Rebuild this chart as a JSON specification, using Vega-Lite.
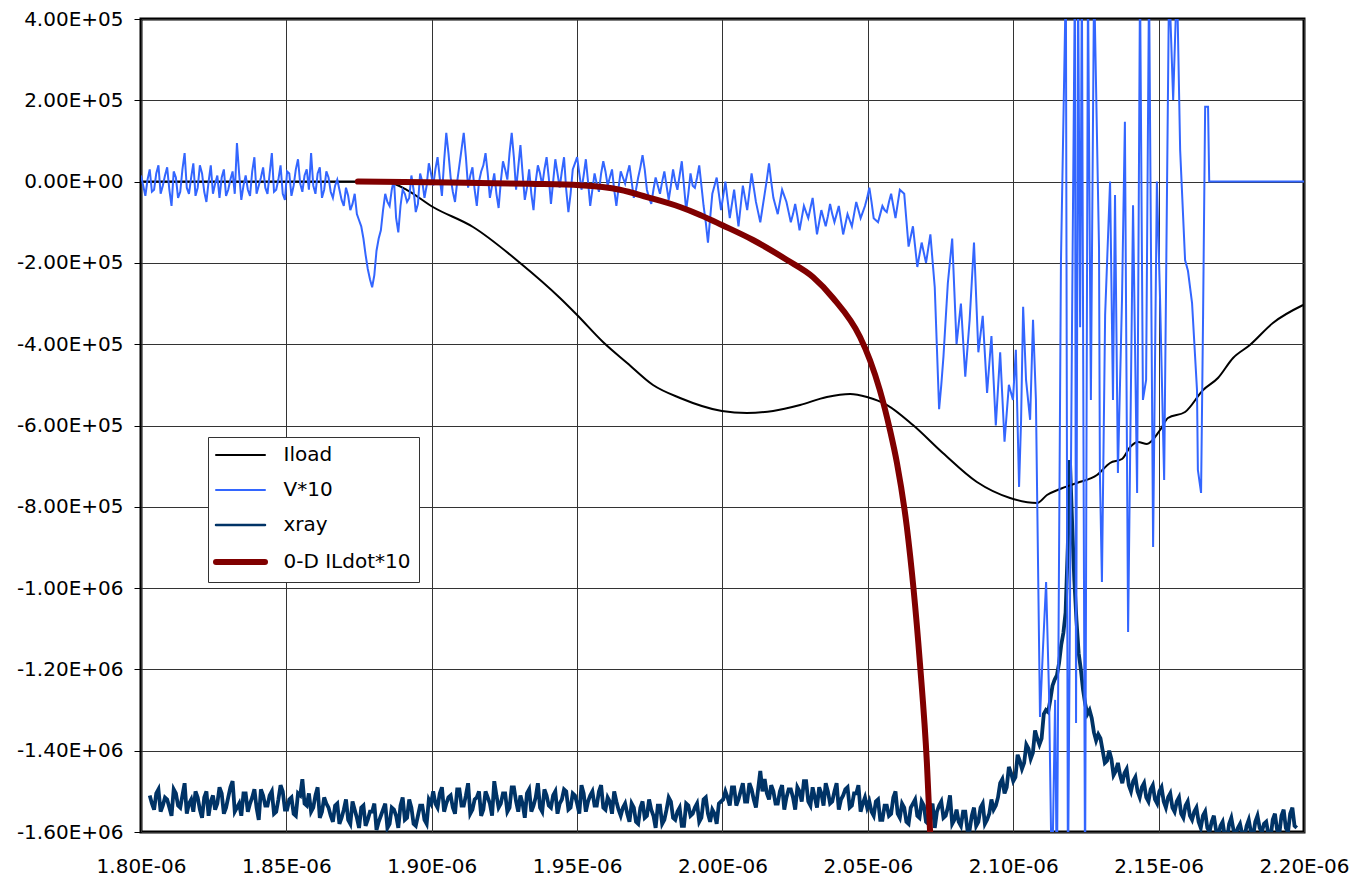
{
"$schema": "https://vega.github.io/schema/vega-lite/v6.json",
"width": 1163, "height": 813,
"autosize": "none",
"padding": {"left": 141, "top": 19, "right": 57, "bottom": 48},
"background": "white",
"config": {"view": {"stroke": "black", "strokeWidth": 3}, "font": "DejaVu Sans"},
"datasets": {
"iload": [
{"t":1.8,"v":0},{"t":1.88,"v":0},{"t":1.8856,"v":-3000},{"t":1.8915,"v":-20700},{"t":1.9004,"v":-62500},{"t":1.9142,"v":-111700},{"t":1.9304,"v":-200200},{"t":1.9441,"v":-286300},{"t":1.95,"v":-328200},{"t":1.9589,"v":-394600},{"t":1.9672,"v":-446200},{"t":1.9761,"v":-500400},{"t":1.9854,"v":-532300},{"t":1.9998,"v":-564300},{"t":2.0084,"v":-569200},{"t":2.0174,"v":-564300},{"t":2.0267,"v":-549600},{"t":2.0359,"v":-529900},{"t":2.0439,"v":-522500},{"t":2.0497,"v":-529900},{"t":2.0566,"v":-549600},{"t":2.0655,"v":-598800},{"t":2.0758,"v":-667600},{"t":2.0875,"v":-739000},{"t":2.0989,"v":-778300},{"t":2.1082,"v":-790600},{"t":2.1116,"v":-771000},{"t":2.1161,"v":-756200},{"t":2.1219,"v":-741400},{"t":2.1288,"v":-721800},{"t":2.1333,"v":-692200},{"t":2.1374,"v":-682400},{"t":2.1402,"v":-652900},{"t":2.1429,"v":-640600},{"t":2.146,"v":-645500},{"t":2.1505,"v":-611100},{"t":2.1532,"v":-581500},{"t":2.1591,"v":-566800},{"t":2.1653,"v":-512700},{"t":2.1704,"v":-483100},{"t":2.1756,"v":-433900},{"t":2.1814,"v":-402000},{"t":2.1893,"v":-347800},{"t":2.1997,"v":-303600}
],
"ildot": [
{"t":1.8746,"v":0},{"t":1.9063,"v":-2000},{"t":1.9338,"v":-5500},{"t":1.951,"v":-9000},{"t":1.9647,"v":-20000},{"t":1.974,"v":-38000},{"t":1.9854,"v":-62500},{"t":1.9923,"v":-82000},{"t":1.9998,"v":-106800},{"t":2.0105,"v":-143700},{"t":2.0222,"v":-192900},{"t":2.0311,"v":-234700},{"t":2.038,"v":-286300},{"t":2.0473,"v":-382300},{"t":2.0507,"v":-438900},{"t":2.0541,"v":-512700},{"t":2.0576,"v":-611100},{"t":2.06,"v":-692200},{"t":2.0634,"v":-849700},{"t":2.0679,"v":-1184200},{"t":2.0703,"v":-1430200},{"t":2.0714,"v":-1600000},{"t":2.0722,"v":-1750000}
],
"v10": [
{"t":1.8,"v":15000},{"t":1.8015,"v":-35000},{"t":1.803,"v":30000},{"t":1.8045,"v":-20000},{"t":1.806,"v":40000},{"t":1.8075,"v":-10000},{"t":1.809,"v":35000},{"t":1.8105,"v":-60000},{"t":1.812,"v":10000},{"t":1.8135,"v":-25000},{"t":1.815,"v":70000},{"t":1.8165,"v":-30000},{"t":1.818,"v":45000},{"t":1.8195,"v":-15000},{"t":1.821,"v":20000},{"t":1.8225,"v":-50000},{"t":1.824,"v":40000},{"t":1.8255,"v":-5000},{"t":1.827,"v":-40000},{"t":1.8285,"v":30000},{"t":1.83,"v":-20000},{"t":1.8315,"v":25000},{"t":1.833,"v":95000},{"t":1.8345,"v":-45000},{"t":1.836,"v":15000},{"t":1.8375,"v":-35000},{"t":1.839,"v":60000},{"t":1.8405,"v":-10000},{"t":1.842,"v":35000},{"t":1.8435,"v":-30000},{"t":1.845,"v":70000},{"t":1.8465,"v":-20000},{"t":1.848,"v":40000},{"t":1.8495,"v":-45000},{"t":1.851,"v":20000},{"t":1.8525,"v":-10000},{"t":1.854,"v":55000},{"t":1.8555,"v":-25000},{"t":1.857,"v":30000},{"t":1.8585,"v":70000},{"t":1.86,"v":-30000},{"t":1.8615,"v":35000},{"t":1.863,"v":-20000},{"t":1.8645,"v":10000},{"t":1.866,"v":-40000},{"t":1.8675,"v":5000},
{"t":1.869,"v":-45000},{"t":1.8705,"v":-15000},{"t":1.872,"v":-70000},{"t":1.8735,"v":-30000},{"t":1.875,"v":-95000},{"t":1.8765,"v":-140000},{"t":1.878,"v":-215000},{"t":1.8795,"v":-260000},{"t":1.881,"v":-170000},{"t":1.8825,"v":-120000},{"t":1.884,"v":-30000},{"t":1.8855,"v":-60000},{"t":1.887,"v":5000},{"t":1.8885,"v":-125000},{"t":1.89,"v":-20000},{"t":1.8915,"v":-50000},{"t":1.893,"v":15000},{"t":1.8945,"v":-75000},{"t":1.896,"v":20000},
{"t":1.8975,"v":-40000},{"t":1.899,"v":45000},{"t":1.9005,"v":-10000},{"t":1.902,"v":60000},{"t":1.9035,"v":-35000},{"t":1.905,"v":120000},{"t":1.9065,"v":10000},{"t":1.908,"v":-50000},{"t":1.9095,"v":40000},{"t":1.911,"v":120000},{"t":1.9125,"v":-15000},{"t":1.914,"v":35000},{"t":1.9155,"v":-60000},{"t":1.917,"v":25000},{"t":1.9185,"v":70000},{"t":1.92,"v":-40000},{"t":1.9215,"v":20000},{"t":1.923,"v":-65000},{"t":1.9245,"v":50000},{"t":1.926,"v":5000},{"t":1.9275,"v":120000},{"t":1.929,"v":-20000},{"t":1.9305,"v":90000},{"t":1.932,"v":-45000},{"t":1.9335,"v":30000},{"t":1.935,"v":-70000},{"t":1.9365,"v":40000},{"t":1.938,"v":-10000},{"t":1.9395,"v":60000},{"t":1.941,"v":-55000},{"t":1.9425,"v":55000},{"t":1.944,"v":-15000},{"t":1.9455,"v":60000},{"t":1.947,"v":-75000},{"t":1.9485,"v":30000},
{"t":1.95,"v":60000},{"t":1.9515,"v":-20000},{"t":1.953,"v":55000},{"t":1.9545,"v":-60000},{"t":1.956,"v":20000},{"t":1.9575,"v":-25000},{"t":1.959,"v":50000},{"t":1.9605,"v":-10000},{"t":1.962,"v":30000},{"t":1.9635,"v":-60000},{"t":1.965,"v":25000},{"t":1.9665,"v":-5000},{"t":1.968,"v":40000},{"t":1.9695,"v":-40000},{"t":1.971,"v":10000},{"t":1.9725,"v":65000},{"t":1.974,"v":-20000},{"t":1.9755,"v":-55000},{"t":1.977,"v":10000},{"t":1.9785,"v":-30000},{"t":1.98,"v":25000},{"t":1.9815,"v":-45000},{"t":1.983,"v":30000},{"t":1.9845,"v":-20000},{"t":1.986,"v":50000},{"t":1.9875,"v":-70000},{"t":1.989,"v":20000},
{"t":1.9905,"v":-15000},{"t":1.992,"v":40000},{"t":1.9935,"v":-60000},{"t":1.995,"v":-150000},{"t":1.9965,"v":-30000},{"t":1.998,"v":10000},{"t":1.9995,"v":-70000},{"t":2.001,"v":0},{"t":2.0025,"v":-90000},{"t":2.004,"v":-20000},{"t":2.0055,"v":-110000},{"t":2.007,"v":-10000},{"t":2.0085,"v":-70000},{"t":2.01,"v":20000},{"t":2.0115,"v":-50000},{"t":2.013,"v":-100000},{"t":2.0145,"v":-30000},{"t":2.016,"v":45000},{"t":2.0175,"v":-40000},{"t":2.019,"v":-80000},{"t":2.0205,"v":-20000},{"t":2.022,"v":-50000},{"t":2.0235,"v":-100000},{"t":2.025,"v":-55000},{"t":2.0265,"v":-120000},{"t":2.028,"v":-60000},{"t":2.0295,"v":-90000},{"t":2.031,"v":-40000},{"t":2.0325,"v":-130000},{"t":2.034,"v":-70000},{"t":2.0355,"v":-110000},{"t":2.037,"v":-55000},{"t":2.0385,"v":-100000},{"t":2.04,"v":-60000},{"t":2.0415,"v":-130000},{"t":2.043,"v":-80000},{"t":2.0445,"v":-110000},{"t":2.046,"v":-50000},{"t":2.0475,"v":-90000},{"t":2.049,"v":-60000},
{"t":2.0505,"v":-15000},{"t":2.052,"v":-90000},{"t":2.0535,"v":-100000},{"t":2.055,"v":-60000},{"t":2.0565,"v":-75000},{"t":2.058,"v":-30000},{"t":2.0595,"v":-90000},{"t":2.061,"v":-20000},{"t":2.0625,"v":-30000},{"t":2.064,"v":-160000},{"t":2.0655,"v":-110000},{"t":2.067,"v":-210000},{"t":2.0685,"v":-150000},{"t":2.07,"v":-200000},{"t":2.0715,"v":-130000},{"t":2.073,"v":-260000},{"t":2.0745,"v":-560000},{"t":2.076,"v":-430000},{"t":2.0775,"v":-250000},{"t":2.079,"v":-140000},{"t":2.0805,"v":-400000},{"t":2.082,"v":-300000},{"t":2.0835,"v":-480000},{"t":2.085,"v":-340000},{"t":2.0865,"v":-150000},{"t":2.088,"v":-420000},{"t":2.0895,"v":-330000},{"t":2.091,"v":-520000},{"t":2.0925,"v":-380000},{"t":2.094,"v":-600000},{"t":2.0955,"v":-420000},{"t":2.097,"v":-640000},{"t":2.0985,"v":-500000},
{"t":2.0999,"v":-537000},{"t":2.1009,"v":-414000},{"t":2.102,"v":-751000},{"t":2.1027,"v":-586000},{"t":2.1034,"v":-308000},{"t":2.1044,"v":-488000},{"t":2.1058,"v":-586000},{"t":2.1068,"v":-340000},{"t":2.1078,"v":-537000},{"t":2.1092,"v":-1317000},{"t":2.1102,"v":-1152000},{"t":2.1113,"v":-985000},{"t":2.1123,"v":-1258000},{"t":2.1133,"v":-1750000},{"t":2.1144,"v":-1275000},{"t":2.115,"v":-1750000},{"t":2.1164,"v":-200000},{"t":2.1181,"v":500000},{"t":2.1188,"v":-1750000},{"t":2.1202,"v":-365000},{"t":2.1212,"v":500000},{"t":2.1216,"v":-1332000},{"t":2.1223,"v":500000},{"t":2.123,"v":-358000},{"t":2.1236,"v":500000},{"t":2.1247,"v":-1750000},{"t":2.1257,"v":500000},{"t":2.1267,"v":-537000},{"t":2.1278,"v":500000},{"t":2.1295,"v":-163000},{"t":2.1298,"v":-717000},{"t":2.1305,"v":-985000},{"t":2.1316,"v":-328000},{"t":2.1333,"v":0},{"t":2.1343,"v":-537000},{"t":2.135,"v":-33000},{"t":2.136,"v":-717000},{"t":2.1374,"v":-291000},{"t":2.1384,"v":147000},{"t":2.1395,"v":-1108000},{"t":2.1412,"v":-58000},{"t":2.1426,"v":-766000},{"t":2.1436,"v":500000},{"t":2.1446,"v":-537000},{"t":2.1457,"v":-488000},{"t":2.1467,"v":500000},{"t":2.1481,"v":-899000},{"t":2.1494,"v":0},{"t":2.1505,"v":-291000},{"t":2.1519,"v":-734000},{"t":2.1536,"v":500000},{"t":2.155,"v":201000},{"t":2.1563,"v":500000},{"t":2.1574,"v":78000},{"t":2.1591,"v":-193000},{"t":2.1601,"v":-220000},{"t":2.1615,"v":-299000},{"t":2.1632,"v":-513000},{"t":2.1635,"v":-709000},{"t":2.1646,"v":-766000},{"t":2.1653,"v":-323000},{"t":2.166,"v":184000},{"t":2.167,"v":184000},{"t":2.1674,"v":0},{"t":2.2,"v":0},
{"t":1.80075,"v":-10000},{"t":1.80225,"v":5000},{"t":1.80375,"v":-25000},{"t":1.80525,"v":20000},{"t":1.80675,"v":-30000},{"t":1.80825,"v":15000},{"t":1.80975,"v":-20000},{"t":1.81125,"v":25000},{"t":1.81275,"v":-40000},{"t":1.81425,"v":30000},{"t":1.81575,"v":-15000},{"t":1.81725,"v":10000},{"t":1.81875,"v":-35000},{"t":1.82025,"v":40000},{"t":1.82175,"v":-25000},{"t":1.82325,"v":0},{"t":1.82475,"v":-30000},{"t":1.82625,"v":15000},{"t":1.82775,"v":10000},{"t":1.82925,"v":-35000},{"t":1.83075,"v":5000},{"t":1.83225,"v":-30000},{"t":1.83375,"v":20000},{"t":1.83525,"v":-10000},{"t":1.83675,"v":-20000},{"t":1.83825,"v":25000},{"t":1.83975,"v":-30000},{"t":1.84125,"v":10000},{"t":1.84275,"v":-15000},{"t":1.84425,"v":20000},{"t":1.84575,"v":-25000},{"t":1.84725,"v":5000},{"t":1.84875,"v":-30000},{"t":1.85025,"v":25000},{"t":1.85175,"v":-35000},{"t":1.85325,"v":30000},{"t":1.85475,"v":-5000},{"t":1.85625,"v":15000},{"t":1.85775,"v":-20000},{"t":1.85925,"v":-10000},{"t":1.86075,"v":20000},{"t":1.86225,"v":-40000},{"t":1.86375,"v":25000},{"t":1.86525,"v":-25000},{"t":1.86675,"v":-10000},
{"t":1.86825,"v":-20000},{"t":1.86975,"v":-60000},{"t":1.87125,"v":-35000},{"t":1.87275,"v":-55000},{"t":1.87425,"v":-80000},{"t":1.87575,"v":-110000},{"t":1.87725,"v":-180000},{"t":1.87875,"v":-240000},{"t":1.88025,"v":-230000},{"t":1.88175,"v":-140000},{"t":1.88325,"v":-70000},{"t":1.88475,"v":-50000},{"t":1.88625,"v":-20000},{"t":1.88775,"v":-90000},{"t":1.88925,"v":-60000},{"t":1.89075,"v":-30000},{"t":1.89225,"v":-40000},{"t":1.89375,"v":-20000},{"t":1.89525,"v":-55000},
{"t":1.89675,"v":0},{"t":1.89825,"v":-10000},{"t":1.89975,"v":20000},{"t":1.90125,"v":30000},{"t":1.90275,"v":10000},{"t":1.90425,"v":50000},{"t":1.90575,"v":70000},{"t":1.90725,"v":-25000},{"t":1.90875,"v":0},{"t":1.91025,"v":80000},{"t":1.91175,"v":60000},{"t":1.91325,"v":15000},{"t":1.91475,"v":-20000},{"t":1.91625,"v":0},{"t":1.91775,"v":40000},{"t":1.91925,"v":20000},{"t":1.92075,"v":-10000},{"t":1.92225,"v":-30000},{"t":1.92375,"v":0},{"t":1.92525,"v":30000},{"t":1.92675,"v":70000},{"t":1.92825,"v":60000},{"t":1.92975,"v":35000},{"t":1.93125,"v":20000},{"t":1.93275,"v":-15000},{"t":1.93425,"v":-30000},{"t":1.93575,"v":0},{"t":1.93725,"v":20000},{"t":1.93875,"v":30000},{"t":1.94025,"v":10000},{"t":1.94175,"v":0},{"t":1.94325,"v":20000},{"t":1.94475,"v":25000},{"t":1.94625,"v":-20000},{"t":1.94775,"v":-30000},{"t":1.94925,"v":45000},
{"t":1.95075,"v":20000},{"t":1.95225,"v":15000},{"t":1.95375,"v":0},{"t":1.95525,"v":-20000},{"t":1.95675,"v":-5000},{"t":1.95825,"v":20000},{"t":1.95975,"v":25000},{"t":1.96125,"v":10000},{"t":1.96275,"v":-20000},{"t":1.96425,"v":-15000},{"t":1.96575,"v":10000},{"t":1.96725,"v":20000},{"t":1.96875,"v":0},{"t":1.97025,"v":-20000},{"t":1.97175,"v":35000},{"t":1.97325,"v":30000},{"t":1.97475,"v":-40000},{"t":1.97625,"v":-20000},{"t":1.97775,"v":-10000},{"t":1.97925,"v":0},{"t":1.98075,"v":-10000},{"t":1.98225,"v":-10000},{"t":1.98375,"v":0},{"t":1.98525,"v":15000},{"t":1.98675,"v":-10000},{"t":1.98825,"v":-30000},{"t":1.98975,"v":-10000},
{"t":1.99125,"v":10000},{"t":1.99275,"v":-10000},{"t":1.99425,"v":-100000},{"t":1.99575,"v":-90000},{"t":1.99725,"v":-10000},{"t":1.99875,"v":-30000},{"t":2.00025,"v":-35000},{"t":2.00175,"v":-45000},{"t":2.00325,"v":-55000},{"t":2.00475,"v":-65000},{"t":2.00625,"v":-60000},{"t":2.00775,"v":-40000},{"t":2.00925,"v":-25000},{"t":2.01075,"v":-15000},{"t":2.01225,"v":-75000},{"t":2.01375,"v":-65000},{"t":2.01525,"v":5000},{"t":2.01675,"v":0},{"t":2.01825,"v":-60000},{"t":2.01975,"v":-50000},{"t":2.02125,"v":-35000},{"t":2.02275,"v":-75000},{"t":2.02425,"v":-80000},{"t":2.02575,"v":-85000},{"t":2.02725,"v":-90000},{"t":2.02875,"v":-75000},{"t":2.03025,"v":-65000},{"t":2.03175,"v":-85000},{"t":2.03325,"v":-100000},{"t":2.03475,"v":-90000},{"t":2.03625,"v":-85000},{"t":2.03775,"v":-80000},{"t":2.03925,"v":-80000},{"t":2.04075,"v":-95000},{"t":2.04225,"v":-105000},{"t":2.04375,"v":-95000},{"t":2.04525,"v":-80000},{"t":2.04675,"v":-70000},{"t":2.04825,"v":-75000},{"t":2.04975,"v":-40000},
{"t":2.05125,"v":-50000},{"t":2.05275,"v":-95000},{"t":2.05425,"v":-80000},{"t":2.05575,"v":-70000},{"t":2.05725,"v":-50000},{"t":2.05875,"v":-60000},{"t":2.06025,"v":-55000},{"t":2.06175,"v":-25000},{"t":2.06325,"v":-95000},{"t":2.06475,"v":-135000},{"t":2.06625,"v":-160000},{"t":2.06775,"v":-180000},{"t":2.06925,"v":-175000},{"t":2.07075,"v":-165000},{"t":2.07225,"v":-195000},{"t":2.07375,"v":-410000},{"t":2.07525,"v":-500000},{"t":2.07675,"v":-340000},{"t":2.07825,"v":-195000},{"t":2.07975,"v":-270000},{"t":2.08125,"v":-350000},{"t":2.08275,"v":-390000},{"t":2.08425,"v":-410000},{"t":2.08575,"v":-245000},{"t":2.08725,"v":-285000},{"t":2.08875,"v":-375000},{"t":2.09025,"v":-425000},{"t":2.09175,"v":-450000},{"t":2.09325,"v":-490000},{"t":2.09475,"v":-510000},{"t":2.09625,"v":-530000},{"t":2.09775,"v":-570000}
],
"xray": [
{"t":1.803,"v":-1510000},{"t":1.8045,"v":-1545000},{"t":1.806,"v":-1495000},{"t":1.8075,"v":-1535000},{"t":1.809,"v":-1520000},{"t":1.8105,"v":-1560000},{"t":1.812,"v":-1505000},{"t":1.8135,"v":-1540000},{"t":1.815,"v":-1480000},{"t":1.8165,"v":-1530000},{"t":1.818,"v":-1550000},{"t":1.8195,"v":-1515000},{"t":1.821,"v":-1565000},{"t":1.8225,"v":-1500000},{"t":1.824,"v":-1525000},{"t":1.8255,"v":-1545000},{"t":1.827,"v":-1490000},{"t":1.8285,"v":-1555000},{"t":1.83,"v":-1515000},{"t":1.8315,"v":-1475000},{"t":1.833,"v":-1540000},{"t":1.8345,"v":-1560000},{"t":1.836,"v":-1505000},{"t":1.8375,"v":-1530000},{"t":1.839,"v":-1495000},{"t":1.8405,"v":-1570000},{"t":1.842,"v":-1510000},{"t":1.8435,"v":-1535000},{"t":1.845,"v":-1500000},{"t":1.8465,"v":-1550000},{"t":1.848,"v":-1485000},{"t":1.8495,"v":-1545000},{"t":1.851,"v":-1520000},{"t":1.8525,"v":-1555000},{"t":1.854,"v":-1505000},{"t":1.8555,"v":-1470000},{"t":1.857,"v":-1535000},{"t":1.8585,"v":-1550000},{"t":1.86,"v":-1510000},{"t":1.8615,"v":-1565000},{"t":1.863,"v":-1515000},
{"t":1.8645,"v":-1540000},{"t":1.866,"v":-1575000},{"t":1.8675,"v":-1530000},{"t":1.869,"v":-1565000},{"t":1.8705,"v":-1520000},{"t":1.872,"v":-1580000},{"t":1.8735,"v":-1545000},{"t":1.875,"v":-1590000},{"t":1.8765,"v":-1535000},{"t":1.878,"v":-1570000},{"t":1.8795,"v":-1550000},{"t":1.881,"v":-1595000},{"t":1.8825,"v":-1560000},{"t":1.884,"v":-1530000},{"t":1.8855,"v":-1580000},{"t":1.887,"v":-1545000},{"t":1.8885,"v":-1590000},{"t":1.89,"v":-1515000},{"t":1.8915,"v":-1565000},{"t":1.893,"v":-1540000},{"t":1.8945,"v":-1585000},{"t":1.896,"v":-1535000},{"t":1.8975,"v":-1570000},{"t":1.899,"v":-1520000},
{"t":1.9005,"v":-1500000},{"t":1.902,"v":-1540000},{"t":1.9035,"v":-1490000},{"t":1.905,"v":-1530000},{"t":1.9065,"v":-1510000},{"t":1.908,"v":-1555000},{"t":1.9095,"v":-1495000},{"t":1.911,"v":-1535000},{"t":1.9125,"v":-1480000},{"t":1.914,"v":-1545000},{"t":1.9155,"v":-1515000},{"t":1.917,"v":-1560000},{"t":1.9185,"v":-1500000},{"t":1.92,"v":-1530000},{"t":1.9215,"v":-1475000},{"t":1.923,"v":-1540000},{"t":1.9245,"v":-1505000},{"t":1.926,"v":-1550000},{"t":1.9275,"v":-1490000},{"t":1.929,"v":-1525000},{"t":1.9305,"v":-1510000},{"t":1.932,"v":-1565000},{"t":1.9335,"v":-1495000},{"t":1.935,"v":-1535000},{"t":1.9365,"v":-1480000},{"t":1.938,"v":-1550000},{"t":1.9395,"v":-1510000},{"t":1.941,"v":-1540000},{"t":1.9425,"v":-1500000},{"t":1.944,"v":-1530000},
{"t":1.9455,"v":-1495000},{"t":1.947,"v":-1545000},{"t":1.9485,"v":-1505000},{"t":1.95,"v":-1530000},{"t":1.9515,"v":-1485000},{"t":1.953,"v":-1550000},{"t":1.9545,"v":-1510000},{"t":1.956,"v":-1535000},{"t":1.9575,"v":-1500000},{"t":1.959,"v":-1540000},{"t":1.9605,"v":-1515000},{"t":1.962,"v":-1555000},{"t":1.9635,"v":-1525000},{"t":1.965,"v":-1560000},
{"t":1.9665,"v":-1530000},{"t":1.968,"v":-1575000},{"t":1.9695,"v":-1540000},{"t":1.971,"v":-1580000},{"t":1.9725,"v":-1525000},{"t":1.974,"v":-1560000},{"t":1.9755,"v":-1545000},{"t":1.977,"v":-1590000},{"t":1.9785,"v":-1535000},{"t":1.98,"v":-1570000},{"t":1.9815,"v":-1515000},{"t":1.983,"v":-1565000},{"t":1.9845,"v":-1550000},{"t":1.986,"v":-1585000},{"t":1.9875,"v":-1530000},{"t":1.989,"v":-1560000},{"t":1.9905,"v":-1540000},{"t":1.992,"v":-1575000},{"t":1.9935,"v":-1520000},{"t":1.995,"v":-1555000},{"t":1.9965,"v":-1545000},{"t":1.998,"v":-1580000},{"t":1.9995,"v":-1525000},
{"t":2.001,"v":-1500000},{"t":2.0025,"v":-1535000},{"t":2.004,"v":-1490000},{"t":2.0055,"v":-1520000},{"t":2.007,"v":-1480000},{"t":2.0085,"v":-1525000},{"t":2.01,"v":-1495000},{"t":2.0115,"v":-1540000},{"t":2.013,"v":-1450000},{"t":2.0145,"v":-1470000},{"t":2.016,"v":-1520000},{"t":2.0175,"v":-1500000},{"t":2.019,"v":-1530000},{"t":2.0205,"v":-1485000},{"t":2.022,"v":-1515000},{"t":2.0235,"v":-1495000},{"t":2.025,"v":-1545000},{"t":2.0265,"v":-1500000},{"t":2.028,"v":-1475000},{"t":2.0295,"v":-1525000},{"t":2.031,"v":-1490000},{"t":2.0325,"v":-1540000},{"t":2.034,"v":-1505000},{"t":2.0355,"v":-1480000},{"t":2.037,"v":-1530000},{"t":2.0385,"v":-1500000},{"t":2.04,"v":-1545000},{"t":2.0415,"v":-1510000},{"t":2.043,"v":-1490000},{"t":2.0445,"v":-1535000},{"t":2.046,"v":-1505000},{"t":2.0475,"v":-1550000},{"t":2.049,"v":-1515000},
{"t":2.0505,"v":-1525000},{"t":2.052,"v":-1560000},{"t":2.0535,"v":-1520000},{"t":2.055,"v":-1570000},{"t":2.0565,"v":-1535000},{"t":2.058,"v":-1555000},{"t":2.0595,"v":-1500000},{"t":2.061,"v":-1565000},{"t":2.0625,"v":-1540000},{"t":2.064,"v":-1580000},{"t":2.0655,"v":-1530000},{"t":2.067,"v":-1560000},{"t":2.0685,"v":-1525000},{"t":2.07,"v":-1575000},{"t":2.0715,"v":-1545000},{"t":2.073,"v":-1590000},{"t":2.0745,"v":-1535000},{"t":2.076,"v":-1565000},{"t":2.0775,"v":-1540000},{"t":2.079,"v":-1580000},{"t":2.0805,"v":-1545000},{"t":2.082,"v":-1585000},{"t":2.0835,"v":-1550000},{"t":2.085,"v":-1595000},{"t":2.0865,"v":-1540000},{"t":2.088,"v":-1575000},{"t":2.0895,"v":-1530000},{"t":2.091,"v":-1570000},{"t":2.0925,"v":-1520000},
{"t":2.094,"v":-1535000},{"t":2.0955,"v":-1480000},{"t":2.097,"v":-1505000},{"t":2.0985,"v":-1440000},{"t":2.1,"v":-1475000},{"t":2.1015,"v":-1410000},{"t":2.103,"v":-1445000},{"t":2.1045,"v":-1385000},{"t":2.106,"v":-1420000},{"t":2.1075,"v":-1350000},{"t":2.109,"v":-1385000},{"t":2.1105,"v":-1310000},{"t":2.112,"v":-1305000},{"t":2.1135,"v":-1240000},{"t":2.115,"v":-1215000},{"t":2.1165,"v":-1140000},{"t":2.118,"v":-1060000},{"t":2.1195,"v":-685000},{"t":2.121,"v":-980000},{"t":2.1225,"v":-1160000},{"t":2.124,"v":-1250000},{"t":2.1255,"v":-1310000},{"t":2.127,"v":-1320000},{"t":2.1285,"v":-1375000},{"t":2.13,"v":-1370000},{"t":2.1315,"v":-1430000},{"t":2.133,"v":-1400000},{"t":2.1345,"v":-1460000},{"t":2.136,"v":-1430000},{"t":2.1375,"v":-1480000},{"t":2.139,"v":-1445000},{"t":2.1405,"v":-1500000},{"t":2.142,"v":-1465000},{"t":2.1435,"v":-1515000},{"t":2.145,"v":-1480000},{"t":2.1465,"v":-1525000},{"t":2.148,"v":-1485000},{"t":2.1495,"v":-1530000},{"t":2.151,"v":-1490000},{"t":2.1525,"v":-1540000},{"t":2.154,"v":-1505000},{"t":2.1555,"v":-1550000},{"t":2.157,"v":-1515000},{"t":2.1585,"v":-1565000},{"t":2.16,"v":-1525000},{"t":2.1615,"v":-1570000},{"t":2.163,"v":-1540000},{"t":2.1645,"v":-1590000},{"t":2.166,"v":-1550000},{"t":2.1675,"v":-1600000},{"t":2.169,"v":-1560000},{"t":2.1705,"v":-1610000},{"t":2.172,"v":-1575000},{"t":2.1735,"v":-1620000},{"t":2.175,"v":-1565000},{"t":2.1765,"v":-1605000},{"t":2.178,"v":-1580000},{"t":2.1795,"v":-1615000},{"t":2.181,"v":-1570000},{"t":2.1825,"v":-1610000},{"t":2.184,"v":-1560000},{"t":2.1855,"v":-1600000},{"t":2.187,"v":-1575000},{"t":2.1885,"v":-1615000},{"t":2.19,"v":-1555000},{"t":2.1915,"v":-1605000},{"t":2.193,"v":-1545000},{"t":2.1945,"v":-1600000},{"t":2.196,"v":-1540000},{"t":2.1975,"v":-1590000},
{"t":1.80375,"v":-1530000},{"t":1.80525,"v":-1505000},{"t":1.80675,"v":-1550000},{"t":1.80825,"v":-1515000},{"t":1.80975,"v":-1540000},{"t":1.81125,"v":-1495000},{"t":1.81275,"v":-1535000},{"t":1.81425,"v":-1510000},{"t":1.81575,"v":-1555000},{"t":1.81725,"v":-1520000},{"t":1.81875,"v":-1500000},{"t":1.82025,"v":-1545000},{"t":1.82175,"v":-1515000},{"t":1.82325,"v":-1560000},{"t":1.82475,"v":-1510000},{"t":1.82625,"v":-1530000},{"t":1.82775,"v":-1505000},{"t":1.82925,"v":-1540000},{"t":1.83075,"v":-1490000},{"t":1.83225,"v":-1550000},{"t":1.83375,"v":-1530000},{"t":1.83525,"v":-1505000},{"t":1.83675,"v":-1550000},{"t":1.83825,"v":-1515000},{"t":1.83975,"v":-1540000},{"t":1.84125,"v":-1495000},{"t":1.84275,"v":-1535000},{"t":1.84425,"v":-1510000},{"t":1.84575,"v":-1555000},{"t":1.84725,"v":-1520000},{"t":1.84875,"v":-1500000},{"t":1.85025,"v":-1545000},{"t":1.85175,"v":-1515000},{"t":1.85325,"v":-1560000},{"t":1.85475,"v":-1510000},{"t":1.85625,"v":-1530000},{"t":1.85775,"v":-1505000},{"t":1.85925,"v":-1540000},{"t":1.86075,"v":-1490000},{"t":1.86225,"v":-1550000},{"t":1.86375,"v":-1530000},
{"t":1.86525,"v":-1560000},{"t":1.86675,"v":-1535000},{"t":1.86825,"v":-1580000},{"t":1.86975,"v":-1545000},{"t":1.87125,"v":-1570000},{"t":1.87275,"v":-1525000},{"t":1.87425,"v":-1565000},{"t":1.87575,"v":-1540000},{"t":1.87725,"v":-1585000},{"t":1.87875,"v":-1550000},{"t":1.88025,"v":-1530000},{"t":1.88175,"v":-1575000},{"t":1.88325,"v":-1545000},{"t":1.88475,"v":-1590000},{"t":1.88625,"v":-1540000},{"t":1.88775,"v":-1560000},{"t":1.88925,"v":-1535000},{"t":1.89075,"v":-1570000},{"t":1.89225,"v":-1520000},{"t":1.89375,"v":-1580000},{"t":1.89525,"v":-1560000},{"t":1.89675,"v":-1535000},{"t":1.89825,"v":-1580000},{"t":1.89975,"v":-1530000},
{"t":1.90125,"v":-1530000},{"t":1.90275,"v":-1505000},{"t":1.90425,"v":-1550000},{"t":1.90575,"v":-1515000},{"t":1.90725,"v":-1540000},{"t":1.90875,"v":-1495000},{"t":1.91025,"v":-1535000},{"t":1.91175,"v":-1510000},{"t":1.91325,"v":-1555000},{"t":1.91475,"v":-1520000},{"t":1.91625,"v":-1500000},{"t":1.91775,"v":-1545000},{"t":1.91925,"v":-1515000},{"t":1.92075,"v":-1560000},{"t":1.92225,"v":-1510000},{"t":1.92375,"v":-1530000},{"t":1.92525,"v":-1505000},{"t":1.92675,"v":-1540000},{"t":1.92825,"v":-1490000},{"t":1.92975,"v":-1550000},{"t":1.93125,"v":-1530000},{"t":1.93275,"v":-1505000},{"t":1.93425,"v":-1550000},{"t":1.93575,"v":-1515000},{"t":1.93725,"v":-1540000},{"t":1.93875,"v":-1495000},{"t":1.94025,"v":-1535000},{"t":1.94175,"v":-1510000},{"t":1.94325,"v":-1555000},{"t":1.94475,"v":-1520000},
{"t":1.94625,"v":-1500000},{"t":1.94775,"v":-1540000},{"t":1.94925,"v":-1510000},{"t":1.95075,"v":-1555000},{"t":1.95225,"v":-1505000},{"t":1.95375,"v":-1525000},{"t":1.95525,"v":-1500000},{"t":1.95675,"v":-1535000},{"t":1.95825,"v":-1485000},{"t":1.95975,"v":-1545000},{"t":1.96125,"v":-1525000},{"t":1.96275,"v":-1500000},{"t":1.96425,"v":-1545000},{"t":1.96575,"v":-1540000},
{"t":1.96725,"v":-1555000},{"t":1.96875,"v":-1530000},{"t":1.97025,"v":-1575000},{"t":1.97175,"v":-1540000},{"t":1.97325,"v":-1565000},{"t":1.97475,"v":-1520000},{"t":1.97625,"v":-1560000},{"t":1.97775,"v":-1535000},{"t":1.97925,"v":-1580000},{"t":1.98075,"v":-1545000},{"t":1.98225,"v":-1525000},{"t":1.98375,"v":-1570000},{"t":1.98525,"v":-1540000},{"t":1.98675,"v":-1585000},{"t":1.98825,"v":-1535000},{"t":1.98975,"v":-1555000},{"t":1.99125,"v":-1530000},{"t":1.99275,"v":-1565000},{"t":1.99425,"v":-1515000},{"t":1.99575,"v":-1575000},{"t":1.99725,"v":-1555000},{"t":1.99875,"v":-1530000},{"t":2.00025,"v":-1520000},
{"t":2.00175,"v":-1515000},{"t":2.00325,"v":-1490000},{"t":2.00475,"v":-1535000},{"t":2.00625,"v":-1500000},{"t":2.00775,"v":-1525000},{"t":2.00925,"v":-1480000},{"t":2.01075,"v":-1520000},{"t":2.01225,"v":-1495000},{"t":2.01375,"v":-1500000},{"t":2.01525,"v":-1505000},{"t":2.01675,"v":-1485000},{"t":2.01825,"v":-1530000},{"t":2.01975,"v":-1500000},{"t":2.02125,"v":-1545000},{"t":2.02275,"v":-1495000},{"t":2.02425,"v":-1515000},{"t":2.02575,"v":-1490000},{"t":2.02725,"v":-1525000},{"t":2.02875,"v":-1475000},{"t":2.03025,"v":-1535000},{"t":2.03175,"v":-1515000},{"t":2.03325,"v":-1490000},{"t":2.03475,"v":-1535000},{"t":2.03625,"v":-1500000},{"t":2.03775,"v":-1525000},{"t":2.03925,"v":-1480000},{"t":2.04075,"v":-1520000},{"t":2.04225,"v":-1495000},{"t":2.04375,"v":-1540000},{"t":2.04525,"v":-1505000},{"t":2.04675,"v":-1485000},{"t":2.04825,"v":-1530000},{"t":2.04975,"v":-1540000},
{"t":2.05125,"v":-1550000},{"t":2.05275,"v":-1525000},{"t":2.05425,"v":-1570000},{"t":2.05575,"v":-1535000},{"t":2.05725,"v":-1560000},{"t":2.05875,"v":-1515000},{"t":2.06025,"v":-1555000},{"t":2.06175,"v":-1530000},{"t":2.06325,"v":-1575000},{"t":2.06475,"v":-1540000},{"t":2.06625,"v":-1520000},{"t":2.06775,"v":-1565000},{"t":2.06925,"v":-1535000},{"t":2.07075,"v":-1580000},{"t":2.07225,"v":-1530000},{"t":2.07375,"v":-1550000},{"t":2.07525,"v":-1525000},{"t":2.07675,"v":-1560000},{"t":2.07825,"v":-1510000},{"t":2.07975,"v":-1570000},
{"t":2.08125,"v":-1575000},{"t":2.08275,"v":-1550000},{"t":2.08425,"v":-1595000},{"t":2.08575,"v":-1560000},{"t":2.08725,"v":-1585000},{"t":2.08875,"v":-1540000},{"t":2.09025,"v":-1580000},{"t":2.09175,"v":-1555000},{"t":2.09325,"v":-1545000},
{"t":2.09475,"v":-1515000},{"t":2.09625,"v":-1470000},{"t":2.09775,"v":-1490000},{"t":2.09925,"v":-1455000},{"t":2.10075,"v":-1465000},{"t":2.10225,"v":-1425000},{"t":2.10375,"v":-1430000},{"t":2.10525,"v":-1395000},{"t":2.10675,"v":-1405000},{"t":2.10825,"v":-1370000},{"t":2.10975,"v":-1370000},{"t":2.11125,"v":-1300000},{"t":2.11275,"v":-1275000},{"t":2.11425,"v":-1225000},{"t":2.11575,"v":-1185000},{"t":2.11725,"v":-1110000},{"t":2.11875,"v":-900000},{"t":2.12025,"v":-840000},{"t":2.12175,"v":-1080000},{"t":2.12325,"v":-1200000},{"t":2.12475,"v":-1285000},{"t":2.12625,"v":-1300000},{"t":2.12775,"v":-1355000},{"t":2.12925,"v":-1360000},{"t":2.13075,"v":-1400000},{"t":2.13225,"v":-1425000},{"t":2.13375,"v":-1420000},{"t":2.13525,"v":-1450000},{"t":2.13675,"v":-1460000},{"t":2.13825,"v":-1455000},{"t":2.13975,"v":-1485000},{"t":2.14125,"v":-1475000},{"t":2.14275,"v":-1500000},{"t":2.14425,"v":-1490000},{"t":2.14575,"v":-1515000},{"t":2.14725,"v":-1495000},{"t":2.14875,"v":-1520000},{"t":2.15025,"v":-1500000},{"t":2.15175,"v":-1525000},{"t":2.15325,"v":-1515000},{"t":2.15475,"v":-1540000},{"t":2.15625,"v":-1525000},{"t":2.15775,"v":-1555000},{"t":2.15925,"v":-1535000},{"t":2.16075,"v":-1560000},{"t":2.16225,"v":-1550000},{"t":2.16375,"v":-1575000},{"t":2.16525,"v":-1560000},{"t":2.16675,"v":-1590000},{"t":2.16825,"v":-1575000},{"t":2.16975,"v":-1595000},{"t":2.17125,"v":-1585000},{"t":2.17275,"v":-1610000},{"t":2.17425,"v":-1580000},{"t":2.17575,"v":-1595000},{"t":2.17725,"v":-1590000},{"t":2.17875,"v":-1605000},{"t":2.18025,"v":-1585000},{"t":2.18175,"v":-1600000},{"t":2.18325,"v":-1575000},{"t":2.18475,"v":-1590000},{"t":2.18625,"v":-1580000},{"t":2.18775,"v":-1605000},{"t":2.18925,"v":-1570000},{"t":2.19075,"v":-1595000},{"t":2.19225,"v":-1560000},{"t":2.19375,"v":-1590000},{"t":2.19525,"v":-1555000},{"t":2.19675,"v":-1585000}
],
"ticks": [
{"t":1.8},{"t":1.81},{"t":1.82},{"t":1.83},{"t":1.84},{"t":1.85},{"t":1.86},{"t":1.87},{"t":1.88},{"t":1.89},{"t":1.9},{"t":1.91},{"t":1.92},{"t":1.93},{"t":1.94},{"t":1.95},{"t":1.96},{"t":1.97},{"t":1.98},{"t":1.99},{"t":2.0},{"t":2.01},{"t":2.02},{"t":2.03},{"t":2.04},{"t":2.05},{"t":2.06},{"t":2.07},{"t":2.08},{"t":2.09},{"t":2.1},{"t":2.11},{"t":2.12},{"t":2.13},{"t":2.14},{"t":2.15},{"t":2.16},{"t":2.17},{"t":2.18},{"t":2.19},{"t":2.2}
]
},
"encoding": {
"x": {"field": "t", "type": "quantitative",
 "scale": {"domain": [1.8, 2.2], "nice": false, "zero": false},
 "axis": {"title": null, "values": [1.8,1.85,1.9,1.95,2.0,2.05,2.1,2.15,2.2], "labelExpr": "format(datum.value,'.2f') + 'E-06'", "ticks": false, "domain": false, "grid": true, "gridColor": "#333333", "gridWidth": 1, "gridOpacity": 1, "labelFont": "DejaVu Sans", "labelFontSize": 20, "labelColor": "black", "labelPadding": 24, "labelFlush": false, "labelOverlap": false, "labelBound": false}},
"y": {"field": "v", "type": "quantitative",
 "scale": {"domain": [-1600000, 400000], "nice": false, "zero": false},
 "axis": {"title": null, "values": [-1600000,-1400000,-1200000,-1000000,-800000,-600000,-400000,-200000,0,200000,400000], "labelExpr": "datum.value == 0 ? '0.00E+00' : ((datum.value < 0 ? '-' : '') + (abs(datum.value) >= 999999 ? format(abs(datum.value)/1000000,'.2f') + 'E+06' : format(abs(datum.value)/100000,'.2f') + 'E+05'))", "ticks": true, "tickSize": 7, "tickColor": "black", "tickWidth": 1, "domain": false, "grid": true, "gridColor": "#333333", "gridWidth": 1, "gridOpacity": 1, "labelFont": "DejaVu Sans", "labelFontSize": 20, "labelColor": "black", "labelPadding": 11, "labelFlush": false, "labelOverlap": false, "labelBound": false}}
},
"layer": [
{"data": {"values": [{}]}, "mark": {"type": "rule", "color": "black", "strokeWidth": 1.5},
 "encoding": {"x": {"datum": 1.8}, "x2": {"datum": 2.2}, "y": {"datum": 0}}},
{"data": {"name": "ticks"}, "mark": {"type": "tick", "orient": "vertical", "color": "black", "size": 11, "thickness": 1.3, "opacity": 1},
 "encoding": {"y": {"datum": 0}}},
{"data": {"name": "xray"}, "mark": {"type": "line", "strokeWidth": 3.8, "clip": true, "strokeJoin": "miter"},
 "encoding": {"color": {"datum": "xray", "type": "nominal",
   "scale": {"domain": ["Iload", "V*10", "xray", "0-D ILdot*10"], "range": ["#000000", "#3366FF", "#003366", "#800000"]},
   "legend": {"orient": "none", "legendX": 67, "legendY": 418, "title": null, "symbolType": "stroke", "symbolSize": 2401, "symbolStrokeWidth": 2, "symbolOffset": 14.5, "labelFont": "DejaVu Sans", "labelFontSize": 20, "labelColor": "black", "labelOffset": 33, "padding": 8, "strokeColor": "#333333", "fillColor": "white", "rowPadding": 15, "cornerRadius": 0, "labelLimit": 400,
     "encode": {"symbols": {"update": {"strokeWidth": {"signal": "datum.value === '0-D ILdot*10' ? 6 : (datum.value === 'xray' ? 2.5 : 2)"}, "strokeCap": {"value": "round"}}}}}}}},
{"data": {"name": "iload"}, "mark": {"type": "line", "strokeWidth": 2, "clip": true, "interpolate": "monotone"},
 "encoding": {"color": {"datum": "Iload", "type": "nominal", "scale": {"domain": ["Iload", "V*10", "xray", "0-D ILdot*10"], "range": ["#000000", "#3366FF", "#003366", "#800000"]}}}},
{"data": {"name": "v10"}, "mark": {"type": "line", "strokeWidth": 2, "clip": true},
 "encoding": {"color": {"datum": "V*10", "type": "nominal", "scale": {"domain": ["Iload", "V*10", "xray", "0-D ILdot*10"], "range": ["#000000", "#3366FF", "#003366", "#800000"]}}}},
{"data": {"name": "ildot"}, "mark": {"type": "line", "strokeWidth": 6, "clip": true, "strokeCap": "round", "interpolate": "monotone"},
 "encoding": {"color": {"datum": "0-D ILdot*10", "type": "nominal", "scale": {"domain": ["Iload", "V*10", "xray", "0-D ILdot*10"], "range": ["#000000", "#3366FF", "#003366", "#800000"]}}}}
]
}
